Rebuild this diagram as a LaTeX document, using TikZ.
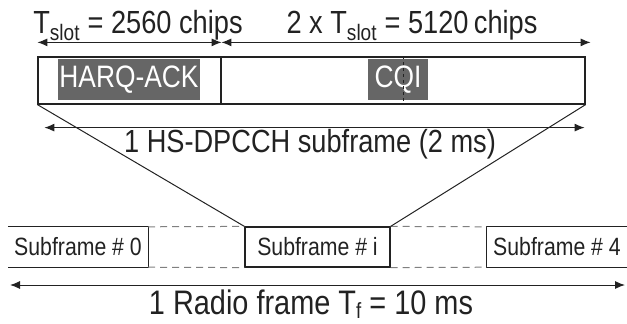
\documentclass[tikz,border=0pt]{standalone}
\usepackage{fontspec}
\setmainfont[FakeStretch=0.85]{Liberation Sans}
\usetikzlibrary{arrows.meta}
\definecolor{labelgrey}{RGB}{102,102,102}
\definecolor{inkgrey}{RGB}{34,34,34}
\tikzset{
    dimarrow/.style={{Latex[length=10pt,width=8pt]}-{Latex[length=10pt,width=8pt]}, line width=1pt},
    fieldbox/.style={draw, line width=1.2pt, inner sep=0pt, minimum height=47},
    greylabel/.style={fill=labelgrey, text=white, inner sep=0pt, minimum height=41, font=\fontsize{31}{31}\selectfont},
    subbox/.style={inner sep=0pt, minimum height=40, font=\fontsize{25}{25}\selectfont},
    gapline/.style={draw=gray, line width=1pt, dash pattern=on 7pt off 5pt},
    dimlabel/.style={anchor=base, inner sep=0pt}
}
\newcommand{\lowidx}[1]{\raisebox{-0.12em}{\fontsize{22}{22}\selectfont #1}}

\begin{document}
\begin{tikzpicture}[x=1pt, y=-1pt, color=inkgrey]
    \useasboundingbox (0,0) rectangle (627,324);

    % subframe fields
    \node[fieldbox, minimum width=183] (ack) at (129.5,80.5) {};
    \node[fieldbox, minimum width=364] (cqi) at (403,80.5) {};
    \node[greylabel, minimum width=142] (acklbl) at (129,79.5) {HARQ-ACK};
    \node[greylabel, minimum width=60] (cqilbl) at (398,79.5) {CQI};
    \draw[dashed, line width=1pt] (cqi.north) -- (cqi.south);

    \node[dimlabel, font=\fontsize{32}{32}\selectfont] (slotlbl) at (138,33) {T\textsubscript{slot} = 2560 chips};
    \node[dimlabel, font=\fontsize{32}{32}\selectfont] (cqislotlbl) at (412,33) {2 x T\textsubscript{slot} = 5120\,chips};
    \draw[dimarrow] ([yshift=14pt]ack.north west) -- ([yshift=14pt]ack.north east);
    \draw[dimarrow] ([xshift=1pt,yshift=14pt]cqi.north west) -- ([xshift=5pt,yshift=14pt]cqi.north east);

    \draw[dimarrow] ([xshift=7pt,yshift=-23pt]ack.south west) -- ([xshift=-1pt,yshift=-23pt]cqi.south east);
    \node[dimlabel, font=\fontsize{32}{32}\selectfont] (hslbl) at (310,152) {1 HS-DPCCH subframe (2 ms)};

    % radio frame
    \node[subbox, minimum width=140] (sf0) at (78,247) {Subframe \# 0};
    \node[subbox, draw, line width=1.2pt, minimum width=145] (sfi) at (317.5,247) {Subframe \# i};
    \node[subbox, minimum width=140] (sf4) at (557,247) {Subframe \# 4};
    \draw[line width=1.2pt] (sf0.north west) -- (sf0.north east) -- (sf0.south east) -- (sf0.south west);
    \draw[line width=1.2pt] (sf4.north east) -- (sf4.north west) -- (sf4.south west) -- (sf4.south east);
    \draw[gapline] (sf0.north east) -- (sfi.north west);
    \draw[gapline] (sf0.south east) -- (sfi.south west);
    \draw[gapline] (sfi.north east) -- (sf4.north west);
    \draw[gapline] (sfi.south east) -- (sf4.south west);

    \draw[line width=1pt] (ack.south west) -- (sfi.north west);
    \draw[line width=1pt] (cqi.south east) -- (sfi.north east);

    \coordinate (rfl) at (10,285);
    \coordinate (rfr) at (625,285);
    \draw[dimarrow] (rfl) -- (rfr);
    \node[dimlabel, font=\fontsize{34}{34}\selectfont] (rflbl) at (311,314) {1 Radio frame T\lowidx{f} = 10 ms};
\end{tikzpicture}
\end{document}
